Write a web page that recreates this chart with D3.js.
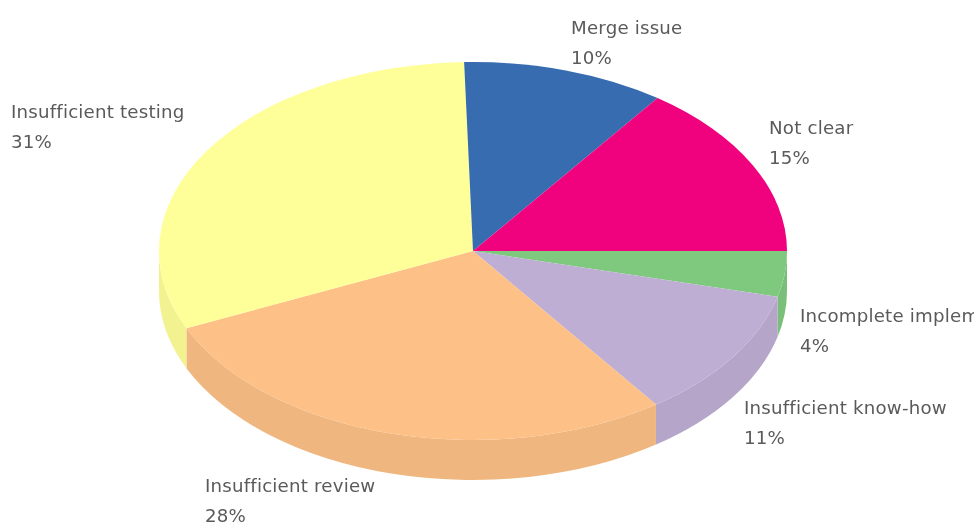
<!DOCTYPE html>
<html>
<head>
<meta charset="utf-8">
<script src="https://cdn.jsdelivr.net/npm/d3@7"></script>
<style>
  html, body { margin: 0; background: #fff; }
  /* the original is a slightly upscaled image, soft edges everywhere */
  svg { filter: blur(0.5px); }
  text { font-family: "DejaVu Sans", sans-serif; font-size: 18.2px; letter-spacing: 0.2px; fill: #5a5a5a; }
</style>
</head>
<body>
<div id="chart"></div>
<script>
// slices clockwise from 3 o'clock
var categories = ["Incomplete implementation", "Insufficient know-how", "Insufficient review",
  "Insufficient testing", "Merge issue", "Not clear"];
var shares = [3.9, 11.2, 28.2, 31.25, 10.45, 15.0];
var colors = ["#7fc97f", "#beaed4", "#fdc086", "#ffff99", "#386cb0", "#f0027f"];
var labelX = [800, 744, 205, 11, 571, 769];
var labelY = [322, 414, 492, 118, 34, 134];

var width = 976, height = 527;
var cx = 473, cy = 251, rx = 314, ry = 189, depth = 40;
var squash = ry / rx;

var svg = d3.select("#chart").append("svg")
  .attr("width", width)
  .attr("height", height)
  .style("display", "block");

svg.append("clipPath").attr("id", "page")
  .append("rect").attr("width", 974).attr("height", height);

// pie works in d3 angles, 0 at 12 o'clock, so start a quarter turn on
var pie = d3.pie().sort(null).startAngle(Math.PI / 2).endAngle(Math.PI * 2.5);
var slices = pie(shares);

var area = svg.append("g")
  .attr("transform", "translate(" + cx + "," + cy + ") scale(1," + squash + ")");

// side wall, only the front half of the rim shows
function wallPath(d) {
  var a0 = Math.max(d.startAngle, Math.PI / 2) - Math.PI / 2;
  var a1 = Math.min(d.endAngle, Math.PI * 1.5) - Math.PI / 2;
  if (a1 <= a0) return null;
  var dy = depth / squash;
  var p = d3.path();
  p.moveTo(rx * Math.cos(a0), rx * Math.sin(a0));
  p.arc(0, 0, rx, a0, a1);
  p.lineTo(rx * Math.cos(a1), rx * Math.sin(a1) + dy);
  p.arc(0, dy, rx, a1, a0, true);
  p.closePath();
  return p.toString();
}

area.selectAll(".wall")
  .data(slices)
  .enter()
  .append("path")
  .attr("class", "wall")
  .attr("d", wallPath)
  .attr("fill", function(d, i) {
    var c = d3.rgb(colors[i]);
    return d3.rgb(c.r * 0.95, c.g * 0.95, c.b * 0.95).formatHex();
  });

var arc = d3.arc().innerRadius(0).outerRadius(rx);

area.selectAll(".top")
  .data(slices)
  .enter()
  .append("path")
  .attr("class", "top")
  .attr("d", arc)
  .attr("fill", function(d, i) { return colors[i]; });

var labels = svg.append("g")
  .attr("clip-path", "url(#page)")
  .selectAll("g")
  .data(categories)
  .enter()
  .append("g")
  .attr("transform", function(d, i) { return "translate(" + labelX[i] + "," + labelY[i] + ")"; });

labels.append("text").text(function(d) { return d; });

labels.append("text")
  .attr("y", 30)
  .text(function(d, i) { return Math.round(shares[i]) + "%"; });
</script>
</body>
</html>
